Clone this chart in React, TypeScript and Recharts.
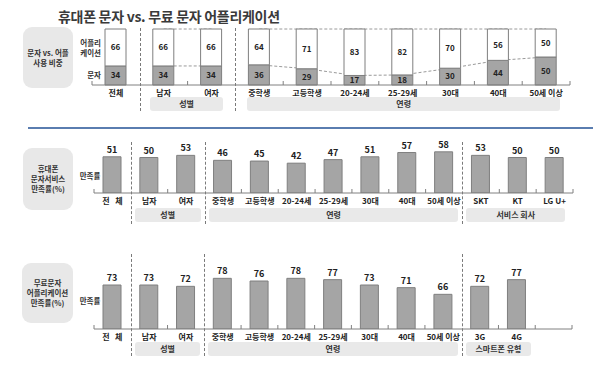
import { ComposedChart, Bar, Line, XAxis, YAxis, LabelList } from "recharts";

const FONT = "'Noto Sans CJK KR', 'Noto Sans', sans-serif";

// data
const topCategories = ["전체", "남자", "여자", "중학생", "고등학생", "20-24세", "25-29세", "30대", "40대", "50세 이상"];
const smsShare = [34, 34, 34, 36, 29, 17, 18, 30, 44, 50];
const appShare = [66, 66, 66, 64, 71, 83, 82, 70, 56, 50];

const smsCategories = [...topCategories, "SKT", "KT", "LG U+"];
const smsSatisfaction = [51, 50, 53, 46, 45, 42, 47, 51, 57, 58, 53, 50, 50];

const appCategories = [...topCategories, "3G", "4G", ""];
const appSatisfaction = [73, 73, 72, 78, 76, 78, 77, 73, 71, 66, 72, 77, null];

// index ranges of the groups that get connector lines in the top chart
const lineGroups: [number, number][] = [[1, 2], [3, 9]];

const shareData = topCategories.map((name, i) => {
  const row: Record<string, any> = { name, sms: smsShare[i], app: appShare[i] };
  lineGroups.forEach(([a, b], g) => {
    const inside = i >= a && i <= b;
    row[`smsLine${g}`] = inside ? smsShare[i] : null;
    row[`topLine${g}`] = inside ? smsShare[i] + appShare[i] : null;
  });
  return row;
});
const smsData = smsCategories.map((name, i) => ({ name, value: smsSatisfaction[i] }));
const appData = appCategories.map((name, i) => ({ name, value: appSatisfaction[i] }));

type Frame = { top: number; height: number; left: number; right: number; plotTop: number; plotBottom: number; n: number };

const topFrame: Frame = { top: 0, height: 120, left: 92, right: 30, plotTop: 29, plotBottom: 85, n: 10 };
const midFrame: Frame = { top: 100, height: 130, left: 94, right: 27, plotTop: 122, plotBottom: 193, n: 13 };
const botFrame: Frame = { top: 240, height: 126, left: 94, right: 28, plotTop: 269, plotBottom: 329, n: 13 };

const slotW = (f: Frame) => (600 - f.left - f.right) / f.n;
const margin = (f: Frame) => ({
  top: f.plotTop - f.top,
  left: f.left,
  right: f.right,
  bottom: f.top + f.height - f.plotBottom - 30,
});

function makeTick(f: Frame, seps: number[], spaced: boolean) {
  const half = slotW(f) / 2;
  return (props: any) => {
    const { x, y, payload, index } = props;
    const off = payload?.offset || half;
    let label = String(payload?.value ?? "");
    if (spaced && label === "전체") label = "전\u00a0\u00a0\u00a0체";
    const lines = [];
    if (index === 0 && !seps.includes(0)) lines.push(x - off);
    if (!seps.includes(index + 1)) lines.push(x + off);
    return (
      <g>
        {lines.map((lx, k) => (
          <line key={k} x1={lx} x2={lx} y1={y} y2={y - 4} stroke="#808080" strokeWidth={1} />
        ))}
        <text x={x} y={y + 11} textAnchor="middle" fontSize={8} fontWeight={700} fill="#222" fontFamily={FONT}>
          {label}
        </text>
      </g>
    );
  };
}

const Sep = ({ f, b, y1, y2 }: { f: Frame; b: number; y1: number; y2: number }) => (
  <div
    style={{
      position: "absolute",
      left: Math.round(f.left + slotW(f) * b),
      top: y1,
      height: y2 - y1,
      borderLeft: "1px dashed #7a7a7a",
    }}
  />
);

const GroupBox = ({ f, from, to, inL, inR, y, label }: { f: Frame; from: number; to: number; inL: number; inR: number; y: number; label: string }) => {
  const x1 = f.left + slotW(f) * from + inL;
  const x2 = f.left + slotW(f) * (to + 1) - inR;
  return (
    <div
      style={{
        position: "absolute",
        left: x1,
        top: y,
        width: x2 - x1,
        height: 14,
        background: "#e9e9e9",
        borderRadius: 3,
        fontSize: 8,
        fontWeight: 700,
        color: "#333",
        lineHeight: "14px",
        textAlign: "center",
      }}
    >
      {label}
    </div>
  );
};

const SideBox = ({ x, y, w, h, lines }: { x: number; y: number; w: number; h: number; lines: string[] }) => (
  <div
    style={{
      position: "absolute",
      left: x,
      top: y,
      width: w,
      height: h,
      background: "#e8e8e8",
      borderRadius: 9,
      display: "flex",
      flexDirection: "column",
      justifyContent: "center",
      alignItems: "center",
      fontSize: 7.5,
      fontWeight: 700,
      color: "#333",
      lineHeight: "10px",
    }}
  >
    {lines.map((t) => (
      <div key={t}>{t}</div>
    ))}
  </div>
);

const SideText = ({ x, y, w, text, align = "right" }: { x: number; y: number; w: number; text: string[]; align?: "right" | "center" }) => (
  <div
    style={{
      position: "absolute",
      left: x,
      top: y,
      width: w,
      fontSize: 7.5,
      fontWeight: 700,
      color: "#333",
      lineHeight: "10px",
      textAlign: align,
      whiteSpace: "nowrap",
    }}
  >
    {text.map((t) => (
      <div key={t}>{t}</div>
    ))}
  </div>
);

const valueLabel = { fontSize: 9, fontWeight: 700, fill: "#222", fontFamily: FONT };

function SatisfactionChart({ f, data, domain, seps }: { f: Frame; data: any[]; domain: [number, number]; seps: number[] }) {
  return (
    <div style={{ position: "absolute", left: 0, top: f.top }}>
      <ComposedChart width={600} height={f.height} data={data} margin={margin(f)}>
        <XAxis
          dataKey="name"
          height={30}
          interval={0}
          tickSize={0}
          tickMargin={0}
          tickLine={false}
          axisLine={{ stroke: "#808080" }}
          tick={makeTick(f, seps, true)}
        />
        <YAxis hide domain={domain} allowDataOverflow />
        <Bar dataKey="value" fill="#a5a5a5" stroke="#7f7f7f" strokeWidth={1} barSize={18} isAnimationActive={false}>
          <LabelList dataKey="value" position="top" offset={4} style={valueLabel} />
        </Bar>
      </ComposedChart>
    </div>
  );
}

export default function App() {
  const tf = topFrame;
  return (
    <div style={{ position: "absolute", left: 0, top: 0, width: 600, height: 366, background: "#fff", fontFamily: FONT, overflow: "hidden" }}>
      <div
        style={{
          position: "absolute",
          left: 58,
          top: 6,
          fontSize: 14,
          fontWeight: 700,
          color: "#3a3a3a",
          whiteSpace: "nowrap",
          letterSpacing: -0.3,
        }}
      >
        휴대폰 문자 vs. 무료 문자 어플리케이션
      </div>

      {/* top: share of SMS vs app */}
      <SideBox x={23} y={27} w={50} h={61} lines={["문자 vs. 어플", "사용 비중"]} />
      <SideText x={76} y={38} w={25} text={["어플리", "케이션"]} />
      <SideText x={76} y={70} w={25} text={["문자"]} />
      <div style={{ position: "absolute", left: 0, top: tf.top }}>
        <ComposedChart width={600} height={tf.height} data={shareData} margin={margin(tf)}>
          <XAxis
            dataKey="name"
            height={30}
            interval={0}
            tickSize={0}
            tickMargin={0}
            tickLine={false}
            axisLine={{ stroke: "#808080" }}
            tick={makeTick(tf, [1, 3], false)}
          />
          <YAxis hide domain={[0, 100]} />
          {lineGroups.map((_, g) => (
            <Line key={`s${g}`} dataKey={`smsLine${g}`} stroke="#9a9a9a" strokeDasharray="3 2" dot={false} activeDot={false} isAnimationActive={false} zIndex={100} />
          ))}
          {lineGroups.map((_, g) => (
            <Line key={`t${g}`} dataKey={`topLine${g}`} stroke="#9a9a9a" strokeDasharray="3 2" dot={false} activeDot={false} isAnimationActive={false} zIndex={100} />
          ))}
          <Bar dataKey="sms" stackId="a" fill="#a5a5a5" stroke="#7f7f7f" barSize={21} isAnimationActive={false}>
            <LabelList dataKey="sms" position="center" style={{ ...valueLabel, fontSize: 8 }} />
          </Bar>
          <Bar dataKey="app" stackId="a" fill="#ffffff" stroke="#7f7f7f" barSize={21} isAnimationActive={false}>
            <LabelList dataKey="app" position="center" style={{ ...valueLabel, fontSize: 8 }} />
          </Bar>
        </ComposedChart>
      </div>
      <Sep f={tf} b={1} y1={28} y2={111} />
      <Sep f={tf} b={3} y1={28} y2={111} />
      <GroupBox f={tf} from={1} to={2} inL={10} inR={12} y={97} label="성별" />
      <GroupBox f={tf} from={3} to={9} inL={12} inR={10} y={97} label="연령" />

      <div style={{ position: "absolute", left: 28, top: 127, width: 565, height: 2, background: "#5a7db0" }} />

      {/* middle: SMS service satisfaction */}
      <SideBox x={23} y={148} w={50} h={62} lines={["휴대폰", "문자서비스", "만족률(%)"]} />
      <SideText x={78} y={171} w={24} text={["만족률"]} align="center" />
      <SatisfactionChart f={midFrame} data={smsData} domain={[0, 100]} seps={[1, 3, 10]} />
      <Sep f={midFrame} b={1} y1={142} y2={224} />
      <Sep f={midFrame} b={3} y1={142} y2={224} />
      <Sep f={midFrame} b={10} y1={142} y2={224} />
      <GroupBox f={midFrame} from={1} to={2} inL={4} inR={4} y={208} label="성별" />
      <GroupBox f={midFrame} from={3} to={9} inL={4} inR={4} y={208} label="연령" />
      <GroupBox f={midFrame} from={10} to={12} inL={4} inR={8} y={208} label="서비스 회사" />

      {/* bottom: free messaging app satisfaction */}
      <SideBox x={22} y={263} w={51} h={60} lines={["무료문자", "어플리케이션", "만족률(%)"]} />
      <SideText x={78} y={296} w={24} text={["만족률"]} align="center" />
      <SatisfactionChart f={botFrame} data={appData} domain={[40, 85]} seps={[1, 3, 10]} />
      <Sep f={botFrame} b={1} y1={254} y2={356} />
      <Sep f={botFrame} b={3} y1={254} y2={356} />
      <Sep f={botFrame} b={10} y1={254} y2={356} />
      <GroupBox f={botFrame} from={1} to={2} inL={4} inR={4} y={342} label="성별" />
      <GroupBox f={botFrame} from={3} to={9} inL={4} inR={4} y={342} label="연령" />
      <GroupBox f={botFrame} from={10} to={11} inL={4} inR={4} y={342} label="스마트폰 유형" />
    </div>
  );
}
